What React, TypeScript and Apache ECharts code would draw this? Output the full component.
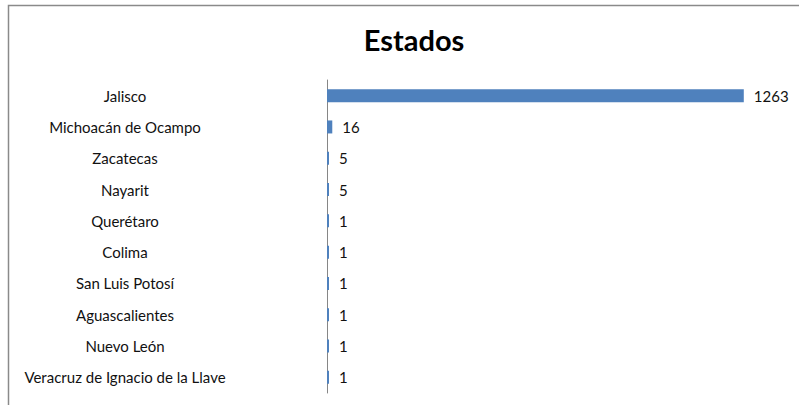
import React, { useEffect, useRef } from "react";
import * as echarts from "echarts";

const categories = [
  "Jalisco",
  "Michoacán de Ocampo",
  "Zacatecas",
  "Nayarit",
  "Querétaro",
  "Colima",
  "San Luis Potosí",
  "Aguascalientes",
  "Nuevo León",
  "Veracruz de Ignacio de la Llave",
];
const values = [1263, 16, 5, 5, 1, 1, 1, 1, 1, 1];
const title = "Estados";

export default function App() {
  const ref = useRef<HTMLDivElement>(null);
  useEffect(() => {
    if (!ref.current) return;
    const chart = echarts.init(ref.current, null, { renderer: "svg" });
    chart.setOption({
      animation: false,
      backgroundColor: "#ffffff",
      title: {
        text: title,
        left: 409,
        top: 20,
        textAlign: "center",
        textStyle: { fontFamily: "Lato", fontWeight: "bold", fontSize: 29, color: "#000" },
      },
      graphic: [
        {
          type: "rect",
          shape: { x: 8.5, y: 5.5, width: 820, height: 420 },
          style: { fill: "none", stroke: "#8a8a8a", lineWidth: 1.5 },
          silent: true,
        },
      ],
      grid: { left: 327, top: 80, width: 462, height: 313, containLabel: false },
      xAxis: {
        type: "value",
        min: 0,
        max: 1400,
        show: false,
      },
      yAxis: {
        type: "category",
        data: categories,
        inverse: true,
        axisLine: { show: true, lineStyle: { color: "#868686", width: 1 } },
        axisTick: { show: false },
        axisLabel: {
          align: "center",
          margin: 202,
          fontFamily: "Lato",
          fontSize: 15,
          color: "#111",
        },
      },
      series: [
        {
          type: "bar",
          data: values,
          barWidth: 13,
          barMinHeight: 2,
          itemStyle: { color: "#4F81BD" },
          label: {
            show: true,
            position: "right",
            distance: 10,
            fontFamily: "Lato",
            fontSize: 15,
            color: "#111",
          },
        },
      ],
    });
    return () => chart.dispose();
  }, []);
  return (
    <div
      ref={ref}
      style={{ position: "fixed", left: 0, top: 0, width: 799, height: 405 }}
    />
  );
}
